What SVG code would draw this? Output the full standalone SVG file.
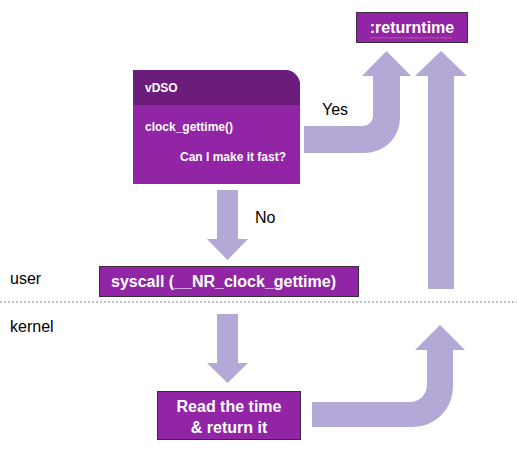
<svg xmlns="http://www.w3.org/2000/svg" width="517" height="457" viewBox="0 0 517 457">
<style>
.arrow{fill:#B4A8D6;}
.box{fill:#9125A6;stroke:#3a2a3e;stroke-width:1;}
.bt{font-family:"Liberation Sans",Arial,sans-serif;font-weight:bold;fill:#ffffff;font-size:16px;}
.st{font-family:"Liberation Sans",Arial,sans-serif;font-weight:bold;fill:#ffffff;font-size:12px;}
.lbl{font-family:"Liberation Sans",Arial,sans-serif;fill:#000000;font-size:16px;}
</style>
<rect width="517" height="457" fill="#ffffff"/>
<line x1="0" y1="302" x2="517" y2="302" stroke="#aaaaaa" stroke-width="1.5" stroke-dasharray="2,2"/>
<text class="lbl" x="10" y="284">user</text>
<text class="lbl" x="10" y="332">kernel</text>
<g id="connectors">
  <path class="arrow" d="M304,126 L363,126 A10,10 0 0 0 373,116 L373,76 L362,76 L386.5,51 L411,76 L400,76 L400,118 A35,35 0 0 1 365,153 L304,153 Z"/>
  <path class="arrow" d="M428,289 L428,76 L415,76 L441,51 L467,76 L454,76 L454,289 Z"/>
  <path class="arrow" d="M217,190 L238,190 L238,239 L248,239 L227.5,260 L207,239 L217,239 Z"/>
  <path class="arrow" d="M217,314 L238,314 L238,363 L248,363 L227.5,383 L207,363 L217,363 Z"/>
  <path class="arrow" d="M312,402 L410,402 A17,17 0 0 0 427,385 L427,350 L415,350 L440,325 L465,350 L453,350 L453,387 A40,40 0 0 1 413,427 L312,427 Z"/>
  <text class="lbl" x="322" y="115">Yes</text>
  <text class="lbl" x="255" y="223">No</text>
</g>
<g id="returntime">
  <rect class="box" x="356.5" y="12.5" width="111" height="30"/>
  <text class="bt" x="412" y="33" text-anchor="middle">:returntime</text>
  <path d="M370,38.5 l1.5,-1.5 l1.5,1.5 l1.5,-1.5 l1.5,1.5 l1.5,-1.5 l1.5,1.5 l1.5,-1.5 l1.5,1.5 l1.5,-1.5 l1.5,1.5 l1.5,-1.5 l1.5,1.5 l1.5,-1.5 l1.5,1.5 l1.5,-1.5 l1.5,1.5 l1.5,-1.5 l1.5,1.5 l1.5,-1.5 l1.5,1.5 l1.5,-1.5 l1.5,1.5 l1.5,-1.5 l1.5,1.5 l1.5,-1.5 l1.5,1.5 l1.5,-1.5 l1.5,1.5 l1.5,-1.5 l1.5,1.5 l1.5,-1.5 l1.5,1.5 l1.5,-1.5 l1.5,1.5 l1.5,-1.5 l1.5,1.5 l1.5,-1.5 l1.5,1.5 l1.5,-1.5 l1.5,1.5 l1.5,-1.5 l1.5,1.5 l1.5,-1.5 l1.5,1.5 l1.5,-1.5 l1.5,1.5 l1.5,-1.5 l1.5,1.5 l1.5,-1.5 l1.5,1.5 l1.5,-1.5 l1.5,1.5 l1.5,-1.5 l1.5,1.5 l1.5,-1.5" fill="none" stroke="#E0607A" stroke-width="0.8"/>
</g>
<g id="vdso">
  <path d="M133,70 L285,70 A15,15 0 0 1 300,85 L300,184 L133,184 Z" fill="#9125A6"/>
  <path d="M133,70 L285,70 A15,15 0 0 1 300,85 L300,105 L133,105 Z" fill="#6C1D7B"/>
  <text class="st" x="145" y="92">vDSO</text>
  <text class="st" x="145" y="131">clock_gettime()</text>
  <text class="st" x="180" y="161">Can I make it fast?</text>
</g>
<g id="syscall">
  <rect class="box" x="99.5" y="266.5" width="259" height="30"/>
  <text class="bt" x="111" y="287" font-size="16.5">syscall (__NR_clock_gettime)</text>
</g>
<g id="readtime">
  <rect class="box" x="157.5" y="391.5" width="143" height="48"/>
  <text class="bt" x="229" y="412" text-anchor="middle">Read the time</text>
  <text class="bt" x="229" y="433" text-anchor="middle">&amp; return it</text>
</g>
</svg>
